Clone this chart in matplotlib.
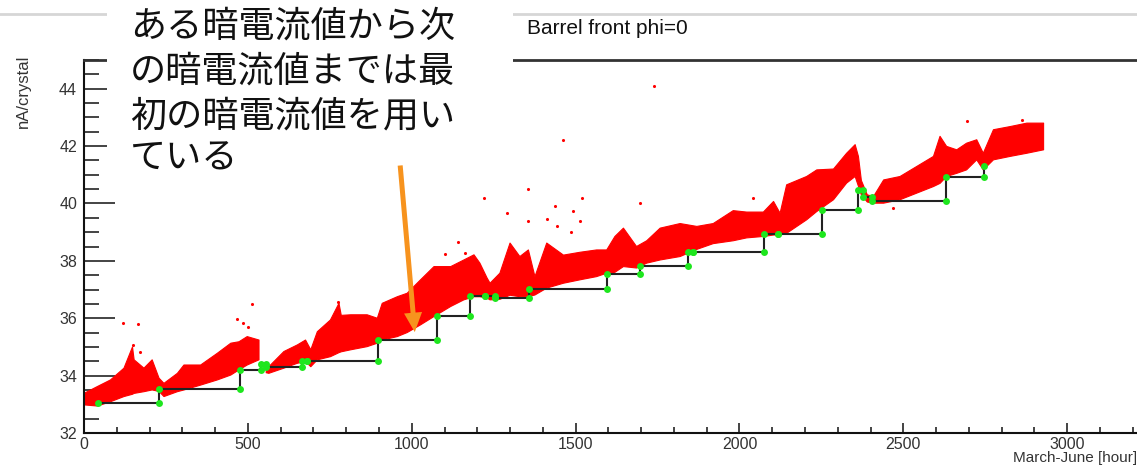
import numpy as np
import matplotlib
matplotlib.use('Agg')
import matplotlib.pyplot as plt
from matplotlib.patches import Rectangle, FancyArrowPatch
from matplotlib.lines import Line2D
from matplotlib.ticker import MultipleLocator

plt.rcParams['font.family'] = ['Liberation Sans', 'DejaVu Sans']

nan = np.nan

# envelope of the dense red dark current cloud
band_x = [0, 41, 81, 122, 148, 153, 183, 208, 229, 244, 285, 305, 356, 407, 448, 473,
          498, 534, 545, 556, 564, 610, 651, 676, 692, 712, 752, 778, 785, 814, 864,
          895, 910, 956, 986, 1027, 1068, 1119, 1159, 1190, 1208, 1230, 1239, 1269,
          1300, 1330, 1356, 1376, 1412, 1463, 1514, 1564, 1595, 1620, 1646, 1686,
          1717, 1758, 1819, 1870, 1920, 1981, 2022, 2073, 2104, 2124, 2144, 2205,
          2236, 2287, 2327, 2353, 2363, 2372, 2390, 2409, 2440, 2490, 2541, 2592,
          2612, 2632, 2663, 2693, 2724, 2744, 2775, 2826, 2877, 2928]
band_lo = [32.98, 32.94, 33.09, 33.27, 33.35, 33.38, 33.44, 33.5, 33.45, 33.27, 33.44,
           33.5, 33.67, 33.85, 34.02, 34.2, 34.37, 34.55, nan, 34.1, 34.08, 34.26,
           34.43, 34.49, 34.31, 34.55, 34.66, 34.8, 34.83, 34.9, 35.01, 35.13, 35.24,
           35.36, 35.5, 35.77, 36.06, 36.41, 36.64, 36.75, 36.75, 36.7, 36.64, 36.66,
           36.8, 36.75, 36.75, 36.81, 37.05, 37.22, 37.34, 37.45, 37.57, 37.6, 37.8,
           37.75, 37.92, 38.03, 38.15, 38.4, 38.6, 38.7, 38.8, 38.85, 38.9, 38.9,
           38.96, 39.43, 39.72, 40.13, 40.71, 40.94, 40.6, 40.3, 40.05, 40.01, 40.01,
           40.13, 40.36, 40.59, 40.7, 40.94, 41.05, 41.17, 41.52, 41.17, 41.52, 41.64,
           41.75, 41.87]
band_hi = [33.38, 33.62, 33.85, 34.26, 35.0, 34.55, 34.26, 34.55, 33.91, 33.73, 34.08,
           34.37, 34.37, 34.78, 35.13, 35.18, 35.36, 35.24, nan, 34.4, 34.31, 34.84,
           35.07, 35.24, 34.9, 35.53, 35.94, 36.52, 36.1, 36.12, 36.12, 36.0, 36.52,
           36.75, 36.87, 37.34, 37.8, 37.8, 38.03, 38.21, 37.92, 37.4, 37.22, 37.57,
           38.62, 38.15, 38.38, 37.45, 38.62, 38.2, 38.3, 38.38, 38.38, 38.85, 39.14,
           38.5, 38.7, 39.14, 39.3, 39.2, 39.3, 39.75, 39.7, 39.7, 40.07, 39.66, 40.65,
           40.94, 41.17, 41.2, 41.75, 42.05, 41.64, 40.8, 40.3, 40.24, 40.82, 40.94,
           41.29, 41.64, 42.34, 41.99, 41.87, 42.1, 42.22, 41.75, 42.57, 42.68, 42.8,
           42.8]

# isolated red points
out_x = [120, 148, 166, 171, 468, 486, 501, 512, 776, 1101, 1142, 1163, 1219, 1290,
         1356, 1356, 1412, 1437, 1442, 1462, 1485, 1491, 1512, 1519, 1697, 1739,
         2040, 2470, 2693, 2862]
out_y = [35.83, 35.07, 35.79, 34.84, 35.97, 35.85, 35.71, 36.5, 36.55, 38.25, 38.67,
         38.27, 40.19, 39.68, 40.5, 39.4, 39.45, 39.92, 39.22, 42.2, 39.0, 39.72,
         39.4, 40.19, 40.03, 44.1, 40.19, 39.84, 42.86, 42.92]

# dark current value used from each step onward
step_x = [44, 230, 477, 539, 556, 666, 679, 898, 1076, 1178, 1224, 1254, 1359, 1596,
          1697, 1844, 1859, 2074, 2117, 2253, 2363, 2378, 2403, 2629, 2745]
step_y = [33.05, 33.55, 34.2, 34.42, 34.29, 34.52, 34.52, 35.25, 36.08, 36.78, 36.76,
          36.72, 37.03, 37.55, 37.82, 38.3, 38.3, 38.92, 38.92, 39.78, 40.47, 40.24,
          40.1, 40.92, 41.29]

note_lines = ['ある暗電流値から次', 'の暗電流値までは最', '初の暗電流値を用い', 'ている']

W, H = 1137, 466
fig = plt.figure(figsize=(W / 100, H / 100), dpi=100)
ax = fig.add_axes([84 / W, 33 / H, 1 - 84 / W, 373 / H])

ax.fill_between(band_x, band_lo, band_hi, facecolor='#ff0000', edgecolor='#ff0000',
                lw=0.8, zorder=2)
ax.scatter(out_x, out_y, s=5, color='#ff0000', lw=0, zorder=2)
ax.step(step_x, step_y, where='post', color='#222222', lw=1.5, zorder=3)

# green markers at both corners of every step
gx, gy = [step_x[0]], [step_y[0]]
for i in range(1, len(step_x)):
    gx += [step_x[i], step_x[i]]
    gy += [step_y[i - 1], step_y[i]]
ax.plot(gx, gy, 'o', ms=5, color='#1ee61e', mec='none', zorder=4)

ax.set_xlim(0, 3213)
ax.set_ylim(32, 45)
ax.xaxis.set_major_locator(MultipleLocator(500))
ax.xaxis.set_minor_locator(MultipleLocator(100))
ax.yaxis.set_major_locator(MultipleLocator(2))
ax.yaxis.set_minor_locator(MultipleLocator(0.5))
ax.tick_params(axis='both', which='both', direction='in', colors='#111111',
               labelcolor='#333333', labelsize=11.5, width=1.1)
ax.tick_params(axis='y', which='major', length=22, pad=5)
ax.tick_params(axis='y', which='minor', length=11)
ax.tick_params(axis='x', which='major', length=7.5, pad=3)
ax.tick_params(axis='x', which='minor', length=4)
ax.spines['right'].set_visible(False)
for s in ['left', 'bottom']:
    ax.spines[s].set_linewidth(1.5)
    ax.spines[s].set_color('#111111')
ax.spines['top'].set_linewidth(2)
ax.spines['top'].set_color('#333333')

fig.text(23 / W, 1 - 55 / H, 'nA/crystal', rotation=90, ha='center', va='top',
         fontsize=12, color='#333333')
fig.text(1013 / W, 1 - 458 / H, 'March-June [hour]', ha='left', va='center',
         fontsize=11, color='#333333')

# title pave
fig.add_artist(Line2D([0, 1], [1 - 14 / H] * 2, transform=fig.transFigure,
                      color='#d6d6d6', lw=2, zorder=1))
fig.text(527 / W, 1 - 28 / H, 'Barrel front phi=0', ha='left', va='center',
         fontsize=15, color='#111111')

# white note box with japanese text
fig.add_artist(Rectangle((107 / W, 1 - 185 / H), (513 - 107) / W, 185 / H,
                         transform=fig.transFigure, fc='white', ec='none', zorder=5))
for yc, line in zip([27, 72, 116, 158], note_lines):
    fig.text(130 / W, 1 - yc / H, line, ha='left', va='center', fontsize=26,
             family=['Noto Sans CJK JP', 'DejaVu Sans'], color='#111111', zorder=6)

arrow = FancyArrowPatch((964, 41.42), (1010, 35.42), transform=ax.transData,
                        arrowstyle='simple,head_width=0.65,head_length=0.7,tail_width=0.18',
                        mutation_scale=20, color='#f7931e', lw=0, zorder=7)
fig.add_artist(arrow)

fig.savefig('out.png', dpi=100)
